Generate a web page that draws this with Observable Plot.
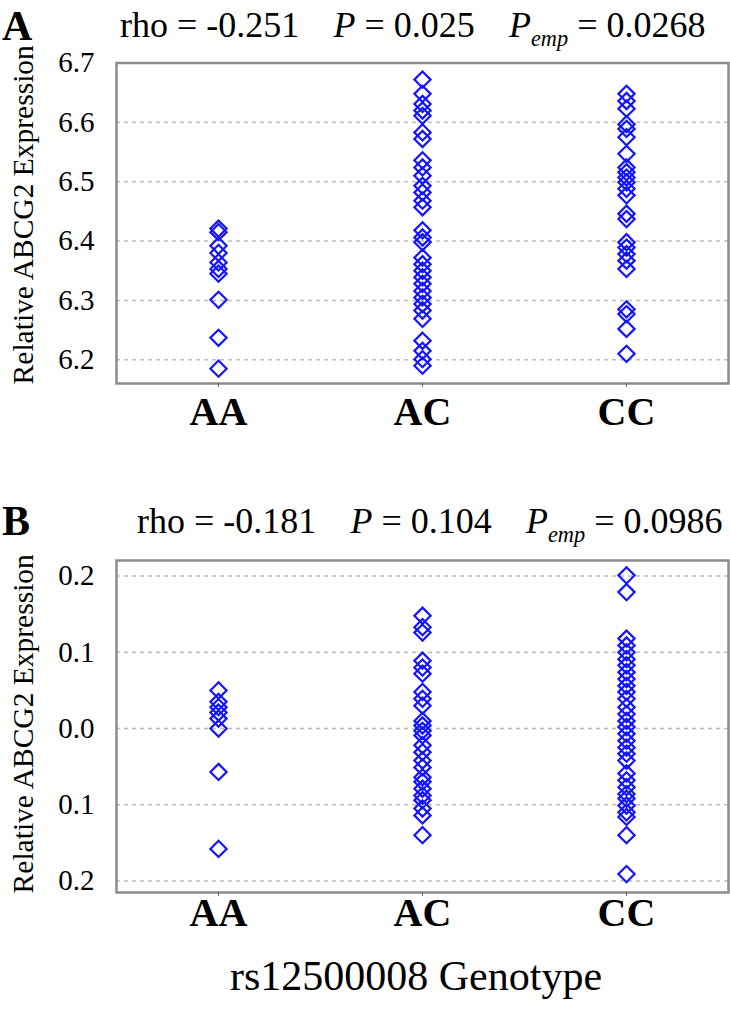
<!DOCTYPE html>
<html><head><meta charset="utf-8">
<script src="https://cdn.jsdelivr.net/npm/d3@7"></script>
<script src="https://cdn.jsdelivr.net/npm/@observablehq/plot@0.6"></script>
<style>
body{margin:0;background:#fff;}
#root{position:relative;width:730px;height:1020px;font-family:"Liberation Serif","Times New Roman",serif;color:#000;overflow:hidden;background:#fff}
.abs{position:absolute;white-space:pre;line-height:1}
.sub{font-size:0.62em;position:relative;top:0.4em;font-style:italic}
.gap{display:inline-block;width:0.95em}
.ylab{position:absolute;width:440px;text-align:center;white-space:nowrap;line-height:1;font-size:29.5px;transform:rotate(-90deg);transform-origin:50% 50%}
.panel{position:absolute;left:0}
</style></head><body><div id="root"></div>
<script>
const genotypes = ["AA", "AC", "CC"];

// Panel A: Relative ABCG2 expression
const panelA_AA = [6.421, 6.415, 6.392, 6.380, 6.364, 6.353, 6.345, 6.301, 6.237, 6.185];
const panelA_AC = [6.672, 6.648, 6.631, 6.620, 6.611, 6.583, 6.572, 6.536, 6.524, 6.510, 6.493, 6.482, 6.468, 6.457, 6.418, 6.406, 6.398, 6.372, 6.361, 6.350, 6.339, 6.328, 6.316, 6.305, 6.294, 6.283, 6.269, 6.232, 6.215, 6.201, 6.190];
const panelA_CC = [6.648, 6.636, 6.623, 6.597, 6.589, 6.575, 6.547, 6.524, 6.516, 6.507, 6.499, 6.488, 6.477, 6.446, 6.437, 6.398, 6.389, 6.378, 6.367, 6.353, 6.285, 6.277, 6.252, 6.210];
const panelA_ticks = [6.2, 6.3, 6.4, 6.5, 6.6, 6.7];

// Panel B: Relative ABCG2 expression (residuals)
const panelB_AA = [0.050, 0.035, 0.028, 0.021, 0.013, 0.000, -0.057, -0.158];
const panelB_AC = [0.148, 0.133, 0.126, 0.089, 0.080, 0.072, 0.048, 0.039, 0.030, 0.010, 0.004, -0.003, -0.009, -0.022, -0.031, -0.042, -0.051, -0.064, -0.070, -0.079, -0.088, -0.094, -0.105, -0.114, -0.140];
const panelB_CC = [0.201, 0.179, 0.118, 0.109, 0.100, 0.091, 0.083, 0.074, 0.065, 0.056, 0.048, 0.039, 0.028, 0.019, 0.010, 0.002, -0.007, -0.016, -0.025, -0.033, -0.042, -0.059, -0.068, -0.077, -0.086, -0.092, -0.101, -0.110, -0.116, -0.140, -0.191];
const panelB_ticks = [-0.2, -0.1, 0.0, 0.1, 0.2];

const statsA = {rho: "-0.251", p: "0.025", pemp: "0.0268"};
const statsB = {rho: "-0.181", p: "0.104", pemp: "0.0986"};

const yTitle = "Relative ABCG2 Expression";
const xTitle = "rs12500008 Genotype";

const FONT = '"Liberation Serif", "Times New Roman", serif';
const root = document.getElementById("root");

function rows(aa, ac, cc) {
  const src = {AA: aa, AC: ac, CC: cc};
  return genotypes.flatMap(g => src[g].map(v => ({g, v})));
}

function panel({data, domain, ticks, fmt, height, marginTop, marginBottom, tickPadding}) {
  return Plot.plot({
    width: 730, height, marginTop, marginBottom, marginLeft: 116, marginRight: 2,
    style: {fontFamily: FONT, background: "white", color: "black"},
    x: {type: "band", domain: genotypes, padding: 0},
    y: {domain, ticks},
    marks: [
      Plot.gridY(ticks, {stroke: "#bdbdbd", strokeOpacity: 1, strokeWidth: 1.5, strokeDasharray: "4,4"}),
      Plot.frame({stroke: "#8c8c8c", strokeWidth: 2.5}),
      Plot.axisY(ticks, {tickSize: 0, tickPadding: 22, fontSize: 29, tickFormat: fmt, label: null}),
      Plot.axisX({tickSize: 4, tickPadding, fontSize: 40, fontWeight: "bold", label: null, stroke: "#666"}),
      Plot.dot(data, {x: "g", y: "v", symbol: "diamond2", r: 7.3, stroke: "#1414ff", strokeWidth: 2.2, fill: "none"})
    ]
  });
}

function addText(html, left, top, size, extra = "") {
  const d = document.createElement("div");
  d.className = "abs";
  d.style.cssText += `left:${left}px;top:${top}px;font-size:${size}px;${extra}`;
  d.innerHTML = html;
  root.appendChild(d);
  return d;
}

function statsLine(s) {
  return `rho = ${s.rho}<span class="gap"></span><i>P</i> = ${s.p}<span class="gap"></span><i>P</i><span class="sub">emp</span> = ${s.pemp}`;
}

// Panel A
const pa = panel({
  data: rows(panelA_AA, panelA_AC, panelA_CC),
  domain: [6.16, 6.7], ticks: panelA_ticks, fmt: d3.format(".1f"),
  height: 400, marginTop: 22.5, marginBottom: 57, tickPadding: 9
});
pa.classList.add("panel"); pa.style.top = "40px";
root.appendChild(pa);

// Panel B
const pb = panel({
  data: rows(panelB_AA, panelB_AC, panelB_CC),
  domain: [-0.2152, 0.2205], ticks: panelB_ticks, fmt: d => Math.abs(d).toFixed(1),
  height: 470, marginTop: 90, marginBottom: 48, tickPadding: 1
});
pb.classList.add("panel"); pb.style.top = "470px";
root.appendChild(pb);

// Panel letters and stats
addText("A", 2, 5, 42, "font-weight:bold");
addText(statsLine(statsA), 120, 7, 36);
addText("B", 2, 500, 42, "font-weight:bold");
addText(statsLine(statsB), 137, 503, 36);

// Y titles
function yLabel(cx, cy) {
  const d = document.createElement("div");
  d.className = "ylab";
  d.textContent = yTitle;
  d.style.left = (cx - 220) + "px";
  d.style.top = (cy - 15) + "px";
  root.appendChild(d);
}
yLabel(24, 215);
yLabel(24, 724);

// X title
addText(xTitle, 116, 955, 42, "width:600px;text-align:center");
</script></body></html>
